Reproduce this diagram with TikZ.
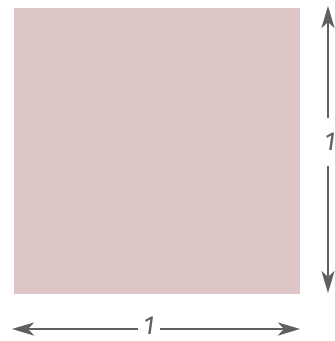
\documentclass[tikz,border=0pt]{standalone}
\usepackage{fontspec}
\setmainfont{Fira Sans}
\usetikzlibrary{arrows.meta}
\definecolor{sq}{HTML}{DFC6C6}
\definecolor{dim}{HTML}{606060}
\begin{document}
\begin{tikzpicture}[x=1pt,y=-1pt,
  dimline/.style={draw=dim,line width=2.8pt,-{Stealth[length=22pt,width=13pt,inset=6pt]}},
  dimlabel/.style={text=dim,font=\fontsize{26}{30}\selectfont\itshape,inner sep=0pt}]
\useasboundingbox (0,0) rectangle (335,341);
\fill[sq] (14,8) rectangle (300,294);
\node[dimlabel] (hl) at (149,326) {1};
\coordinate (hL) at (12,329);
\coordinate (hR) at (300,329);
\coordinate (hA) at (138,329);
\coordinate (hB) at (160,329);
\draw[dimline] (hA) -- (hL);
\draw[dimline] (hB) -- (hR);
\node[dimlabel] (vl) at (330,142) {1};
\coordinate (vT) at (328,6);
\coordinate (vB) at (328,293);
\coordinate (vA) at (328,118);
\coordinate (vC) at (328,166);
\draw[dimline] (vA) -- (vT);
\draw[dimline] (vC) -- (vB);
\end{tikzpicture}
\end{document}
